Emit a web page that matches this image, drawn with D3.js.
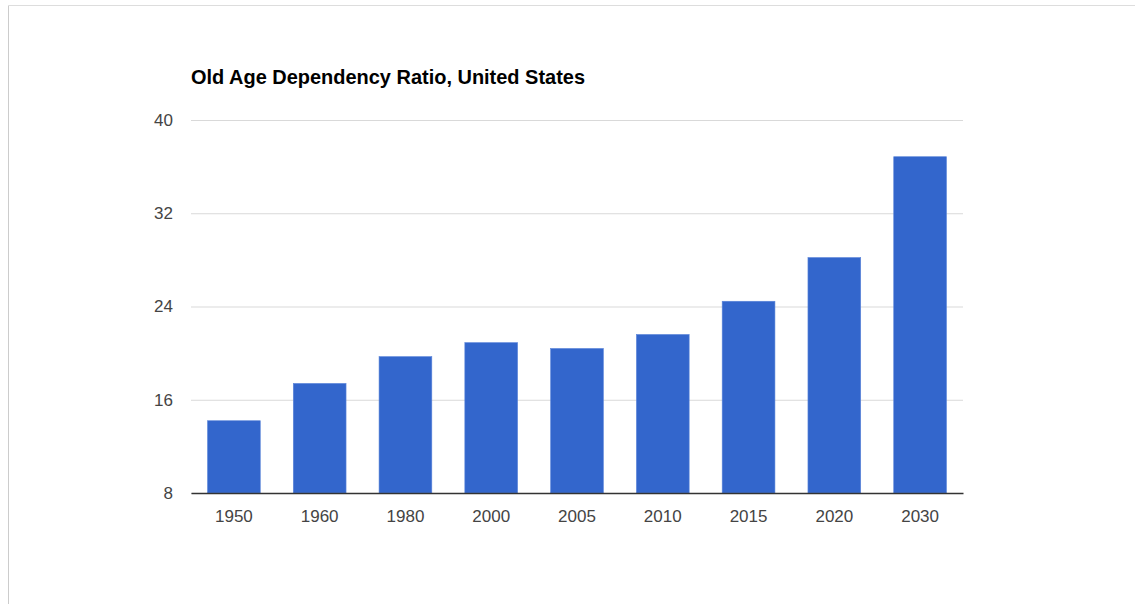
<!DOCTYPE html>
<html><head><meta charset="utf-8">
<script src="https://cdn.jsdelivr.net/npm/d3@7"></script>
<style>body{margin:0;background:#fff;}svg{display:block;font-family:"Liberation Sans",Arial,sans-serif;}</style>
</head><body>
<svg id="c" width="1135" height="604"></svg>
<script>
const title = "Old Age Dependency Ratio, United States";
const years = ["1950","1960","1980","2000","2005","2010","2015","2020","2030"];
const ratios = [14.2, 17.4, 19.7, 20.9, 20.4, 21.6, 24.45, 28.2, 36.85];
const yTicks = [8, 16, 24, 32, 40];

const svg = d3.select("#c");
const m = {left:191, right:1135-963, top:120, bottom:604-493};
const W = 1135, H = 604;

// frame
svg.append("line").attr("x1",8.5).attr("x2",8.5).attr("y1",5.5).attr("y2",H).attr("stroke","#ccc");
svg.append("line").attr("x1",8.5).attr("x2",W).attr("y1",5.5).attr("y2",5.5).attr("stroke","#ddd");

const x = d3.scaleBand().domain(years).range([m.left, W-m.right]).paddingInner(0.385).paddingOuter(0.1925);
const y = d3.scaleLinear().domain([8,40]).range([H-m.bottom, m.top]);

// gridlines
const yAxis = d3.axisLeft(y).tickValues(yTicks).tickSize(-(W-m.left-m.right)).tickPadding(18).tickFormat(d3.format("d"));
const gy = svg.append("g").attr("transform",`translate(${m.left},0)`).call(yAxis);
gy.select(".domain").remove();
gy.selectAll(".tick line").attr("stroke","#d9d9d9").attr("stroke-width",1);
gy.selectAll(".tick text").attr("fill","#444").attr("font-size",17).attr("font-family","Liberation Sans, Arial, sans-serif");

// bars
svg.append("g").selectAll("rect").data(years).join("rect")
  .attr("x", d=>x(d)).attr("width", x.bandwidth())
  .attr("y", (d,i)=>y(ratios[i])).attr("height",(d,i)=>y(8)-y(ratios[i]))
  .attr("fill","#3366cc").attr("stroke","#5b85d9").attr("stroke-width",0.6);

// x axis
const xAxis = d3.axisBottom(x).tickSize(0).tickPadding(17);
const gx = svg.append("g").attr("transform",`translate(0,${y(8)})`).call(xAxis);
gx.select(".domain").attr("stroke","#333").attr("stroke-width",1.3);
gx.selectAll(".tick text").attr("fill","#444").attr("font-size",17).attr("font-family","Liberation Sans, Arial, sans-serif");

// title
svg.append("text").attr("x",191).attr("y",84).attr("font-size",21).attr("font-weight","bold").attr("fill","#000")
  .attr("textLength",394).attr("lengthAdjust","spacingAndGlyphs").text(title);
</script>
</body></html>
